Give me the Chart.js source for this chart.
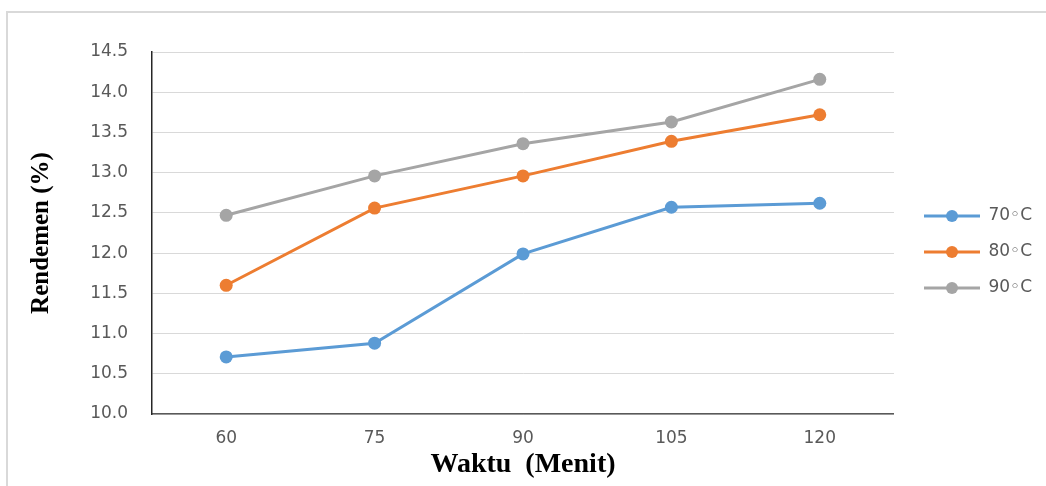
<!DOCTYPE html>
<html>
<head>
<meta charset="utf-8">
<script src="https://cdn.jsdelivr.net/npm/chart.js@4.4.1/dist/chart.umd.min.js"></script>
<style>
  html, body { margin: 0; padding: 0; background: #fff; }
  #wrap { position: relative; width: 1046px; height: 486px; overflow: hidden; }
  #frame { position: absolute; left: 6px; top: 11px; width: 1100px; height: 500px;
           border-top: 2px solid #d9d9d9; border-left: 2px solid #d9d9d9; }
  canvas { position: absolute; left: 0; top: 0; }
</style>
</head>
<body>
<div id="wrap">
  <div id="frame"></div>
  <canvas id="myChart" width="1046" height="486"></canvas>
</div>
<script>
const waktu = ['60', '75', '90', '105', '120'];
const seriesNames = ['70\u25E6C', '80\u25E6C', '90\u25E6C'];
const rendemen70 = [10.71, 10.88, 11.99, 12.57, 12.62];
const rendemen80 = [11.60, 12.56, 12.96, 13.39, 13.72];
const rendemen90 = [12.47, 12.96, 13.36, 13.63, 14.16];
const yTicks = [10.0, 10.5, 11.0, 11.5, 12.0, 12.5, 13.0, 13.5, 14.0, 14.5];

const colors = ['#5b9bd5', '#ed7d31', '#a5a5a5'];

// legend icon: short line with a dot in the middle
function legendIcon(color) {
  const c = document.createElement('canvas');
  c.width = 67;
  c.height = 14;
  const g = c.getContext('2d');
  g.strokeStyle = color;
  g.lineWidth = 3;
  g.beginPath();
  g.moveTo(11, 7);
  g.lineTo(67, 7);
  g.stroke();
  g.fillStyle = color;
  g.beginPath();
  g.arc(39, 7, 6, 0, Math.PI * 2);
  g.fill();
  return c;
}

function makeSet(label, data, color) {
  return {
    label: label,
    data: data,
    borderColor: color,
    backgroundColor: color,
    borderWidth: 3,
    pointRadius: 6.5,
    pointHoverRadius: 6.5,
    pointBorderWidth: 0,
    pointBackgroundColor: color,
    tension: 0,
    icon: legendIcon(color)
  };
}

// nudge the legend up a little so it sits where the original one is
const legendShift = {
  id: 'legendShift',
  afterLayout(chart) {
    chart.legend.top -= 17;
    chart.legend.bottom -= 17;
  }
};

const ctx = document.getElementById('myChart').getContext('2d');
new Chart(ctx, {
  type: 'line',
  data: {
    labels: waktu,
    datasets: [
      makeSet(seriesNames[0], rendemen70, colors[0]),
      makeSet(seriesNames[1], rendemen80, colors[1]),
      makeSet(seriesNames[2], rendemen90, colors[2])
    ]
  },
  plugins: [legendShift],
  options: {
    responsive: false,
    animation: false,
    layout: { padding: { left: 0, right: 4, top: 52, bottom: 0 } },
    plugins: {
      tooltip: { enabled: false },
      legend: {
        position: 'right',
        labels: {
          usePointStyle: true,
          pointStyleWidth: 67,
          padding: 19,
          color: '#595959',
          font: { family: 'DejaVu Sans', size: 17 },
          generateLabels: function(chart) {
            return chart.data.datasets.map((ds, i) => ({
              text: ds.label,
              pointStyle: ds.icon,
              fillStyle: ds.borderColor,
              strokeStyle: ds.borderColor,
              lineWidth: 0,
              fontColor: '#595959',
              hidden: false,
              datasetIndex: i
            }));
          }
        }
      }
    },
    scales: {
      x: {
        offset: true,
        grid: { display: false, drawTicks: false },
        border: { display: true, color: '#595959', width: 1.5 },
        ticks: { color: '#595959', padding: 14, font: { family: 'DejaVu Sans', size: 17 } },
        title: {
          display: true,
          text: 'Waktu  (Menit)',
          color: '#000',
          padding: { top: 0, bottom: 4 },
          font: { family: 'Liberation Serif', size: 28, weight: 'bold' }
        },
        afterFit: function(scale) { scale.height = 72; }
      },
      y: {
        min: 10,
        max: 14.5,
        afterBuildTicks: function(scale) {
          scale.ticks = yTicks.map(v => ({ value: v }));
        },
        grid: { color: '#d9d9d9', lineWidth: 1, drawTicks: false },
        border: { display: true, color: '#262626', width: 1.5 },
        ticks: {
          color: '#595959',
          padding: 24,
          font: { family: 'DejaVu Sans', size: 17 },
          callback: function(v) { return Number(v).toFixed(1); }
        },
        title: {
          display: true,
          text: 'Rendemen (%)',
          color: '#000',
          padding: { top: 27, bottom: 0 },
          font: { family: 'Liberation Serif', size: 25, weight: 'bold' }
        },
        afterFit: function(scale) { scale.width = 152; }
      }
    }
  }
});
</script>
</body>
</html>
